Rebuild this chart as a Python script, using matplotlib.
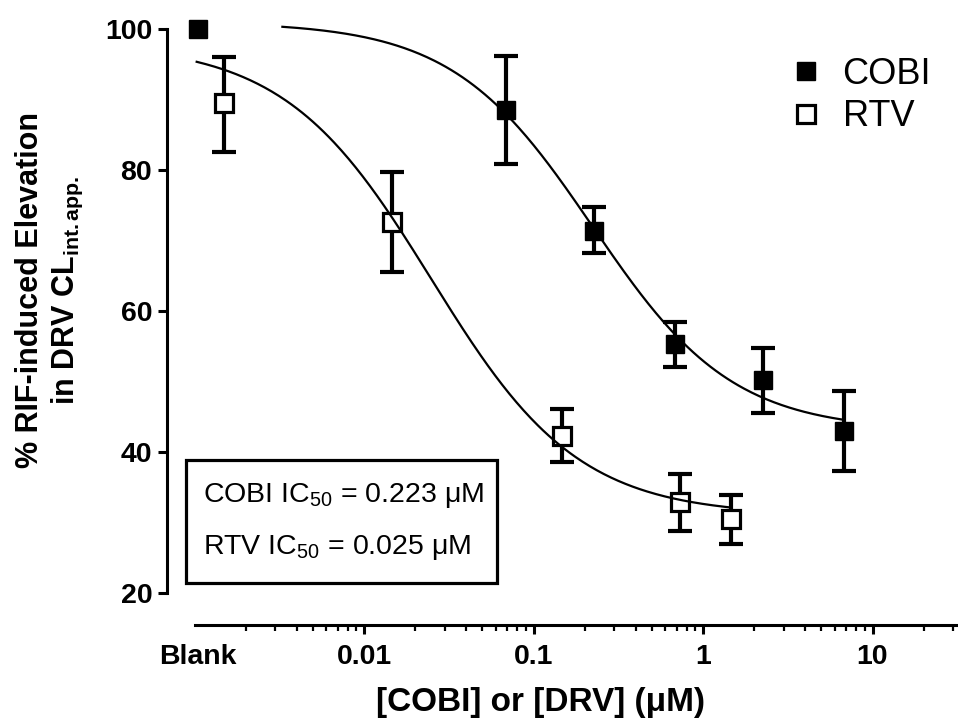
import matplotlib
matplotlib.use('Agg')
import matplotlib.pyplot as plt
from matplotlib.patches import Rectangle
from matplotlib.ticker import FixedLocator, NullFormatter
import numpy as np

plt.rcParams['font.family'] = ['Liberation Sans', 'DejaVu Sans']
plt.rcParams['mathtext.fontset'] = 'custom'
plt.rcParams['mathtext.rm'] = 'Liberation Sans'
plt.rcParams['mathtext.it'] = 'Liberation Sans:italic'
plt.rcParams['mathtext.bf'] = 'Liberation Sans:bold'

# data (concentration in uM, % elevation, error bars); first point = Blank
cobi_x = [0.00105, 0.0686, 0.229, 0.686, 2.25, 6.75]
cobi_y = [100.0, 88.5, 71.4, 55.3, 50.2, 43.0]
cobi_err_up = [0.0, 7.6, 3.4, 3.2, 4.5, 5.6]
cobi_err_dn = [0.0, 7.6, 3.2, 3.3, 4.6, 5.7]

rtv_x = [0.0015, 0.0147, 0.148, 0.73, 1.46]
rtv_y = [89.5, 72.6, 42.3, 32.9, 30.5]
rtv_err_up = [6.5, 7.1, 3.8, 4.0, 3.4]
rtv_err_dn = [6.9, 7.1, 3.7, 4.1, 3.6]

# 4-parameter logistic fits: top, bottom, IC50, hill, plotted range
cobi_fit = dict(top=101.0, bottom=43.0, ic50=0.223, hill=1.05, xmin=0.0033, xmax=6.75)
rtv_fit = dict(top=98.0, bottom=31.0, ic50=0.025, hill=1.0, xmin=0.00103, xmax=1.46)

blank_label_x = 0.00105
major_ticks = [blank_label_x, 0.01, 0.1, 1, 10]
major_labels = ['Blank', '0.01', '0.1', '1', '10']
y_ticks = [20, 40, 60, 80, 100]


def four_pl(x, top, bottom, ic50, hill):
    return bottom + (top - bottom) / (1 + (x / ic50) ** hill)


def draw_errorbars(ax, x, y, lo, hi):
    x, y, lo, hi = map(np.asarray, (x, y, lo, hi))
    keep = (lo > 0) | (hi > 0)
    ax.errorbar(x[keep], y[keep], yerr=[lo[keep], hi[keep]], fmt='none', ecolor='black',
                elinewidth=3, capsize=8.5, capthick=3, clip_on=False, zorder=2)


W, H = 958, 727
fig = plt.figure(figsize=(W / 100, H / 100), dpi=100, facecolor='white')
x_right = 10 ** ((958 - 703) / 169.5)
ax_left = 194.5 / W
ax = fig.add_axes([ax_left, 134 / H, 1.0 - ax_left, (593 - 29) / H])
ax.set_xscale('log')
ax.set_xlim(1e-3, x_right)
ax.set_ylim(20, 100)

for s in ['top', 'right']:
    ax.spines[s].set_visible(False)
ax.spines['left'].set_position(('outward', 20))
ax.spines['bottom'].set_position(('outward', 23))
ax.spines['left'].set_linewidth(2.2)
ax.spines['bottom'].set_linewidth(2.2)

draw_errorbars(ax, cobi_x, cobi_y, cobi_err_dn, cobi_err_up)
draw_errorbars(ax, rtv_x, rtv_y, rtv_err_dn, rtv_err_up)

# markers
ax.plot(cobi_x, cobi_y, 's', color='black', markersize=12.5, markeredgewidth=1,
        label='COBI', clip_on=False, zorder=3)
ax.plot(rtv_x, rtv_y, 's', markerfacecolor='white', markeredgecolor='black', markersize=12.3,
        markeredgewidth=2.3, label='RTV', clip_on=False, zorder=3)

# fitted curves
for fit in (cobi_fit, rtv_fit):
    xs = np.logspace(np.log10(fit['xmin']), np.log10(fit['xmax']), 300)
    ax.plot(xs, four_pl(xs, fit['top'], fit['bottom'], fit['ic50'], fit['hill']),
            color='black', lw=1.6, zorder=4, clip_on=False)

# ticks
ax.xaxis.set_major_locator(FixedLocator(major_ticks))
ax.set_xticklabels(major_labels)
minor = [k * 10.0 ** e for e in range(-3, 2) for k in range(2, 10)]
minor = [m for m in minor if m < x_right]
ax.xaxis.set_minor_locator(FixedLocator(minor))
ax.xaxis.set_minor_formatter(NullFormatter())
ax.set_yticks(y_ticks)

ax.tick_params(axis='both', which='major', direction='out', length=6.5, width=2.2,
               labelsize=20.5, colors='black')
ax.tick_params(axis='x', which='major', pad=7)
ax.tick_params(axis='y', which='major', pad=4)
ax.tick_params(axis='x', which='minor', direction='out', length=4, width=1.6)
for lab in ax.get_xticklabels() + ax.get_yticklabels():
    lab.set_fontweight('bold')
ax.xaxis.get_major_ticks()[0].tick1line.set_visible(False)

# axis titles
fig.text(541 / W, 1 - 703 / H, '[COBI] or [DRV] (\u03bcM)', fontsize=24, fontweight='bold',
         ha='center', va='center')
fig.text(50 / W, 1 - 290 / H,
         '% RIF-induced Elevation\nin DRV CL$_{\\mathregular{int.app.}}$',
         fontsize=22, fontweight='bold', rotation=90, ha='center', va='center',
         multialignment='center', linespacing=1.22)

# legend
ax.legend(loc='upper left', bbox_to_anchor=(792 / W, 1 - 57 / H),
          bbox_transform=fig.transFigure, frameon=False, fontsize=26,
          handlelength=0.8, handletextpad=0.6, borderpad=0, borderaxespad=0,
          labelspacing=0.2)

# IC50 box
fig.patches.append(Rectangle((186 / W, 1 - 583 / H), (497 - 186) / W, (583 - 460) / H,
                             transform=fig.transFigure, fill=False, edgecolor='black',
                             linewidth=2.3, figure=fig))
fig.text(203 / W, 1 - 495 / H, 'COBI IC$_{\\mathregular{50}}$ = 0.223 \u03bcM', fontsize=20.5,
         ha='left', va='center')
fig.text(203 / W, 1 - 548 / H, 'RTV IC$_{\\mathregular{50}}$ = 0.025 \u03bcM', fontsize=20.5,
         ha='left', va='center')

fig.savefig('out.png', dpi=100, facecolor='white')
